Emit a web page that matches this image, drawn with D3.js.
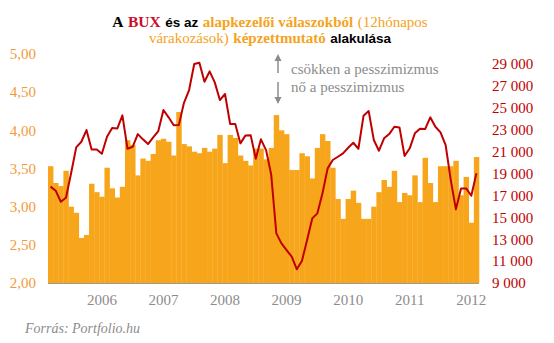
<!DOCTYPE html>
<html><head><meta charset="utf-8">
<script src="https://cdn.jsdelivr.net/npm/d3@7"></script>
<style>body{margin:0;background:#fff} svg{display:block}</style>
</head><body><svg id="c" width="554" height="343"></svg>
<script>
// ---- data ----
const startYear = 2005, startMonth = 3; // first bar: 2005 March
const indexValues = [3.53,3.31,3.27,3.47,3.00,2.92,2.59,2.63,3.30,3.19,
  3.13,3.51,3.24,3.12,3.26,3.87,3.81,3.41,3.63,3.60,
  3.69,3.87,3.89,3.85,3.67,4.24,3.82,3.79,3.72,3.70,
  3.77,3.72,3.76,3.94,3.57,3.94,3.90,3.67,3.60,3.54,
  3.76,3.76,3.62,3.77,4.20,4.00,3.95,3.48,3.48,3.70,
  3.66,3.37,3.77,3.95,3.86,3.51,3.10,2.84,3.10,3.21,
  3.05,2.84,2.84,3.00,3.19,3.35,3.26,3.47,3.06,3.18,
  3.15,3.41,3.06,3.64,3.31,3.06,3.53,3.53,3.53,3.60,
  3.15,3.39,2.79,3.65];
const buxValues = [17800,17430,16420,16790,19020,21390,21900,22970,21200,21200,
  20800,22360,23150,23100,24310,21260,21440,22600,22120,21690,
  22300,22880,24800,24130,23400,23420,25460,26620,29000,29120,
  27380,28330,27320,25710,26260,23520,23520,21750,22480,22500,
  20350,22120,21140,18900,13530,12620,12010,11400,10250,11040,
  12930,14900,15360,17190,19470,20230,20530,20840,21350,21810,
  21260,24280,24700,22060,21080,22210,22600,23270,23210,20600,
  21300,22670,23090,23060,24130,23270,22760,21600,18400,15730,
  17640,17640,16970,19020];
const months = indexValues.map((_, i) => {
  const m = startMonth - 1 + i;
  return (startYear + Math.floor(m / 12)) + "-" + String(m % 12 + 1).padStart(2, "0");
});
const yearTicks = ["2006","2007","2008","2009","2010","2011","2012"];
const leftTicks = [2.0,2.5,3.0,3.5,4.0,4.5,5.0];
const rightTicks = [9000,11000,13000,15000,17000,19000,21000,23000,25000,27000,29000];
// title pieces: text, role
const titleLine1 = [["A","black"],["BUX","red"],["és az","blackSans"],["alapkezelői válaszokból","orangeBold"],["(12hónapos","orange"]];
const titleLine2 = [["várakozások)","orange"],["képzettmutató","orangeBold"],["alakulása","blackSans"]];
const noteLines = ["csökken a pesszimizmus","nő a pesszimizmus"];
const sourceText = "Forrás: Portfolio.hu";

// ---- layout ----
const svg = d3.select("#c");
const L = 48, R = 479, T = 54, B = 283;
const font = "'Liberation Serif', 'DejaVu Serif', serif";
const sans = "'Liberation Sans', 'DejaVu Sans', sans-serif";
const orange = "#F7A61C", red = "#C00000", grey = "#8c8c8c";
const roles = {
  black:      {fill: "#000", weight: 700, family: font, size: 15.5},
  red:        {fill: "#C8102E", weight: 700, family: font, size: 15.5},
  blackSans:  {fill: "#000", weight: 700, family: sans, size: 13.5},
  orangeBold: {fill: "#F5A31C", weight: 700, family: font, size: 15},
  orange:     {fill: "#F5A31C", weight: 400, family: font, size: 15}
};

const x = d3.scaleBand().domain(months).range([L, R]).padding(0);
const yL = d3.scaleLinear().domain([2, 5]).range([B, T]);
const yR = d3.scaleLinear().domain([9000, 29000]).range([B, 64]);

const loc = d3.formatLocale({decimal: ",", thousands: " ", grouping: [3], currency: ["", ""]});

// bars
svg.append("g").selectAll("rect").data(indexValues).join("rect")
  .attr("x", (d, i) => x(months[i]))
  .attr("width", x.bandwidth() + 0.3)
  .attr("y", d => yL(d))
  .attr("height", d => B - yL(d))
  .attr("fill", orange);

// baseline
svg.append("line").attr("x1", L).attr("x2", R).attr("y1", B + 0.5).attr("y2", B + 0.5)
  .attr("stroke", "#9a9a9a").attr("stroke-width", 1.2);

// line
svg.append("path").datum(buxValues)
  .attr("d", d3.line().x((d, i) => x(months[i]) + x.bandwidth() / 2).y(d => yR(d)))
  .attr("fill", "none").attr("stroke", red).attr("stroke-width", 2).attr("stroke-linejoin", "round");

// left axis
const gl = svg.append("g").attr("transform", `translate(${L},0)`)
  .call(d3.axisLeft(yL).tickValues(leftTicks).tickSize(0).tickPadding(12).tickFormat(loc.format(".2f")));
gl.select(".domain").remove();
gl.selectAll("text").attr("fill", "#F39A3A").style("font-family", font).style("font-size", "15px");

// right axis
const gr = svg.append("g").attr("transform", `translate(${R},0)`)
  .call(d3.axisRight(yR).tickValues(rightTicks).tickSize(0).tickPadding(13).tickFormat(loc.format(",.0f")));
gr.select(".domain").remove();
gr.selectAll("text").attr("fill", red).style("font-family", font).style("font-size", "15px");

// bottom axis
const gb = svg.append("g").attr("transform", `translate(0,${B})`)
  .call(d3.axisBottom(x).tickValues(yearTicks.map(y => y + "-01")).tickSize(0).tickPadding(11).tickFormat(d => d.slice(0, 4)));
gb.select(".domain").remove();
gb.selectAll("text").attr("fill", grey).style("font-family", font).style("font-size", "15px");

// title: pieces laid out one after another, centred
function titleLine(parts, yPos, cx, gap) {
  const g = svg.append("g");
  const nodes = parts.map(p => {
    const r = roles[p[1]];
    return g.append("text").attr("y", yPos).text(p[0]).attr("fill", r.fill)
      .attr("font-weight", r.weight).style("font-family", r.family).style("font-size", r.size + "px");
  });
  const widths = nodes.map(n => n.node().getComputedTextLength());
  const total = d3.sum(widths) + gap * (nodes.length - 1);
  let cur = cx - total / 2;
  nodes.forEach((n, i) => { n.attr("x", cur); cur += widths[i] + gap; });
}
titleLine(titleLine1, 27, 270, 4.5);
titleLine(titleLine2, 43, 270, 4.5);

// annotation arrows
const ax = 278;
const ag = svg.append("g").attr("stroke", grey).attr("fill", grey);
ag.append("line").attr("x1", ax).attr("x2", ax).attr("y1", 60).attr("y2", 73).attr("stroke-width", 1.5);
ag.append("path").attr("d", `M${ax},54 L${ax - 3.5},61 L${ax + 3.5},61 Z`).attr("stroke", "none");
ag.append("line").attr("x1", ax).attr("x2", ax).attr("y1", 82).attr("y2", 98).attr("stroke-width", 1.5);
ag.append("path").attr("d", `M${ax},104 L${ax - 3.5},97 L${ax + 3.5},97 Z`).attr("stroke", "none");
svg.append("g").selectAll("text").data(noteLines).join("text")
  .attr("x", 291).attr("y", (d, i) => 74 + i * 18)
  .attr("fill", grey).style("font-family", font).style("font-size", "15px").text(d => d);

// source
svg.append("text").attr("x", 25).attr("y", 333).attr("fill", grey)
  .style("font-family", font).style("font-size", "14px").style("font-style", "italic").text(sourceText);
</script></body></html>
